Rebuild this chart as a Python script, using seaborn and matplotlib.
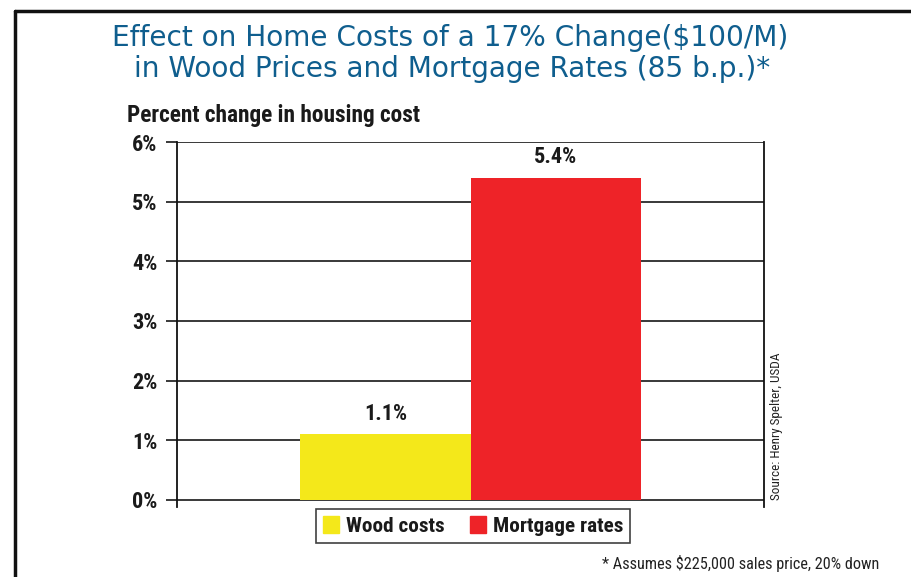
import matplotlib
matplotlib.use("Agg")
import matplotlib.pyplot as plt
import seaborn as sns
import pandas as pd
from matplotlib.lines import Line2D

# ---- data ----
series = ["Wood costs", "Mortgage rates"]
values = [1.1, 5.4]
colors = ["#F4E81A", "#EE2328"]
yticks = [0, 1, 2, 3, 4, 5, 6]
ytick_labels = ["0%", "1%", "2%", "3%", "4%", "5%", "6%"]
title_lines = ["Effect on Home Costs of a 17% Change($100/M)",
               "in Wood Prices and Mortgage Rates (85 b.p.)*"]
ylabel = "Percent change in housing cost"
source = "Source: Henry Spelter, USDA"
footnote = "* Assumes $225,000 sales price, 20% down"

sns.set_theme(style="white")
NARROW = ["Roboto Condensed", "DejaVu Sans"]
TITLEF = ["DejaVu Sans"]
plt.rcParams["font.family"] = NARROW

W, H = 912, 577
fig = plt.figure(figsize=(W / 100, H / 100), dpi=100)

def fx(px):
    return px / W

def fy(py):
    return 1 - py / H

ax = fig.add_axes([fx(177), fy(507), fx(764) - fx(177), fy(142) - fy(507)])

df = pd.DataFrame({"group": ["all", "all"], "series": series, "value": values})
sns.barplot(data=df, x="group", y="value", hue="series", hue_order=series,
            palette=colors, width=0.8, saturation=1, ax=ax, legend=False,
            edgecolor="none", linewidth=0)

ax.set_xlim(-0.69, 0.69)
ax.set_ylim(-0.12, 6)
ax.set_yticks(yticks)
ax.set_yticklabels(ytick_labels, fontsize=16, fontweight="bold", color="#1a1a1a")
ax.set_xticks([])
ax.set_xlabel("")
ax.set_ylabel("")
ax.yaxis.grid(True, color="#2a2a2a", linewidth=1.3)
ax.set_axisbelow(True)
ax.tick_params(axis="y", which="major", left=True, length=8, width=1.3,
               color="#2a2a2a", pad=6)
for s in ["left", "right"]:
    ax.spines[s].set_visible(True)
    ax.spines[s].set_color("#111111")
    ax.spines[s].set_linewidth(1.3)
ax.spines["top"].set_visible(False)
ax.spines["bottom"].set_visible(False)

for cont in ax.containers:
    ax.bar_label(cont, fmt="%.1f%%", padding=7, fontsize=16, fontweight="bold",
                 color="#1a1a1a")

# title (two centred lines)
fig.text(fx(450), fy(45.7), title_lines[0], ha="center", va="baseline",
         fontsize=20.2, color="#0F5E8E", family=TITLEF)
fig.text(fx(452), fy(76.7), title_lines[1], ha="center", va="baseline",
         fontsize=20.2, color="#0F5E8E", family=TITLEF)

fig.text(fx(127), fy(121.7), ylabel, ha="left", va="baseline", fontsize=16.8,
         fontweight="bold", color="#1a1a1a")

# source
fig.text(fx(777), fy(500), source, rotation=90, ha="center", va="bottom",
         fontsize=9.5, color="#222222")

# footnote
fig.text(fx(879), fy(563), footnote, ha="right", va="center", fontsize=11.7,
         color="#222222")

# legend
handles = [plt.Rectangle((0, 0), 1, 1, color=c) for c in colors]
leg = fig.legend(handles, series, loc="center", bbox_to_anchor=(fx(473), fy(526)),
                 ncol=2, frameon=True, fancybox=False, edgecolor="#111111",
                 handlelength=0.78, handleheight=0.85, handletextpad=0.3,
                 columnspacing=1.2, borderpad=0.32,
                 prop={"family": NARROW, "weight": "bold", "size": 15.3})
leg.get_frame().set_linewidth(1.2)
for t in leg.get_texts():
    t.set_color("#1a1a1a")

# figure border (top and left)
fig.add_artist(Line2D([fx(15), 1], [fy(10.5), fy(10.5)], color="#111111", lw=2.5))
fig.add_artist(Line2D([fx(15), fx(15)], [fy(10.5), 0], color="#111111", lw=2.5))

fig.savefig("out.png", dpi=100)
